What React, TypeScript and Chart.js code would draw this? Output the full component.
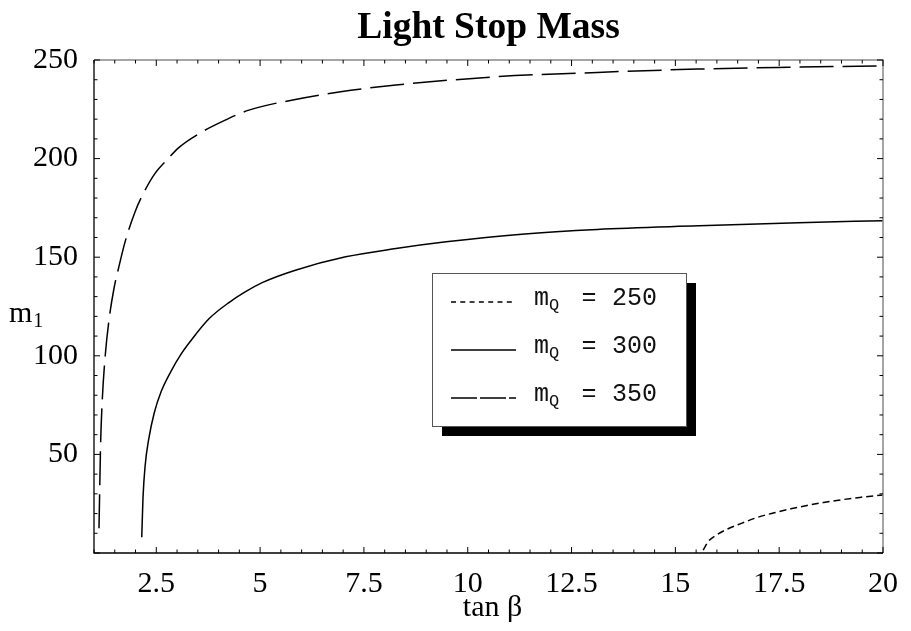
import React, { useEffect, useRef } from "react";
import { Chart, registerables } from "chart.js";

Chart.register(...registerables);

// ---- data ----
const chartTitle = "Light Stop Mass";
const xAxisTitle = "tan β";
const yAxisTitleMain = "m";
const yAxisTitleSub = "1";

const xTicks = [2.5, 5, 7.5, 10, 12.5, 15, 17.5, 20];
const yTicks = [50, 100, 150, 200, 250];
const xRange = [1, 20];
const yRange = [0, 250];
const xMinorStep = 0.5;
const yMinorStep = 10;
const xMajorStep = 2.5;
const yMajorStep = 50;

const legendNames = ["250", "300", "350"];

const tanB250 = [15.67, 15.79, 15.95, 16.27, 16.59, 16.98, 17.38, 17.78, 18.17, 18.57, 18.97, 19.44, 20];
const m250 = [1.5, 5.8, 8.6, 12.3, 15.0, 18.1, 20.4, 22.4, 24.1, 25.6, 26.9, 28.2, 29.4];

const tanB300 = [2.15, 2.18, 2.23, 2.32, 2.45, 2.62, 2.85, 3.1, 3.38, 3.78, 4.25, 4.65, 5.05, 5.85, 7.06, 8.27, 9.48, 11.3, 13.12, 15.54, 17.96, 20];
const m300 = [8, 28, 44, 58, 71, 82, 92, 101, 109, 119, 127, 132.5, 137.1, 143.4, 150.2, 154.4, 157.8, 161.7, 164.1, 165.9, 167.5, 168.5];

const tanB350 = [1.12, 1.14, 1.16, 1.2, 1.27, 1.36, 1.48, 1.6, 1.75, 1.99, 2.19, 2.47, 2.79, 3.02, 3.54, 4.17, 4.73, 5.85, 6.94, 8.27, 10.69, 13.12, 15.54, 17.72, 20];
const m350 = [12.5, 35, 56, 78, 100, 118, 134, 145.2, 157.9, 173.1, 182.4, 192.5, 200.1, 205.2, 212.8, 219.6, 224.6, 230, 233.9, 237.3, 241.5, 243.7, 245.4, 246.3, 247];

const SERIF = '"Liberation Serif", "Times New Roman", serif';
const MONO = '"Liberation Mono", "Courier New", monospace';

function toPoints(xs: number[], ys: number[]) {
  return xs.map((x, i) => ({ x, y: ys[i] }));
}

export default function App() {
  const ref = useRef<HTMLCanvasElement | null>(null);

  useEffect(() => {
    const canvas = ref.current;
    if (!canvas) return;

    const plotDashes: number[][] = [[7, 4], [], [34, 9]];
    const legendDashes: number[][] = [[5, 4.3], [], [26, 3]];

    const decor = {
      id: "decor",
      afterDraw(chart: any) {
        const { ctx, chartArea: ca, scales } = chart;
        const xs = scales.x;
        const ys = scales.y;
        ctx.save();

        // frame
        ctx.setLineDash([]);
        ctx.lineWidth = 1.5;
        ctx.strokeStyle = "#888";
        ctx.beginPath();
        ctx.moveTo(ca.left, ca.top);
        ctx.lineTo(ca.right, ca.top);
        ctx.lineTo(ca.right, ca.bottom);
        ctx.stroke();
        ctx.lineWidth = 1.3;
        ctx.strokeStyle = "#000";
        ctx.beginPath();
        ctx.moveTo(ca.left, ca.top);
        ctx.lineTo(ca.left, ca.bottom);
        ctx.lineTo(ca.right, ca.bottom);
        ctx.stroke();

        // ticks (inward on all sides)
        ctx.lineWidth = 1;
        ctx.strokeStyle = "#000";
        ctx.beginPath();
        const nX = Math.round((xRange[1] - xRange[0]) / xMinorStep);
        for (let i = 0; i <= nX; i++) {
          const v = xRange[0] + i * xMinorStep;
          const major = Math.abs(v / xMajorStep - Math.round(v / xMajorStep)) < 1e-6;
          const len = major ? 6 : 3.5;
          const px = xs.getPixelForValue(v);
          ctx.moveTo(px, ca.bottom);
          ctx.lineTo(px, ca.bottom - len);
          ctx.moveTo(px, ca.top);
          ctx.lineTo(px, ca.top + len);
        }
        const nY = Math.round((yRange[1] - yRange[0]) / yMinorStep);
        for (let i = 0; i <= nY; i++) {
          const v = yRange[0] + i * yMinorStep;
          const major = Math.abs(v / yMajorStep - Math.round(v / yMajorStep)) < 1e-6;
          const len = major ? 6 : 3.5;
          const py = ys.getPixelForValue(v);
          ctx.moveTo(ca.left, py);
          ctx.lineTo(ca.left + len, py);
          ctx.moveTo(ca.right, py);
          ctx.lineTo(ca.right - len, py);
        }
        ctx.stroke();

        // title
        ctx.fillStyle = "#000";
        ctx.textAlign = "center";
        ctx.textBaseline = "alphabetic";
        ctx.font = `bold 37.5px ${SERIF}`;
        ctx.fillText(chartTitle, (ca.left + ca.right) / 2, 38);

        // x axis title
        ctx.font = `30px ${SERIF}`;
        ctx.fillText(xAxisTitle, (ca.left + ca.right) / 2 + 4, 616);

        // y axis title with subscript
        ctx.textAlign = "left";
        ctx.font = `30px ${SERIF}`;
        ctx.fillText(yAxisTitleMain, 9, 322);
        const mw = ctx.measureText(yAxisTitleMain).width;
        ctx.font = `20px ${SERIF}`;
        ctx.fillText(yAxisTitleSub, 9 + mw + 1, 327);

        // legend
        const w = ca.right - ca.left;
        const h = ca.bottom - ca.top;
        const bx = Math.round(ca.left + 0.4286 * w);
        const by = Math.round(ca.top + 0.432 * h);
        const bw = 254;
        const bh = 153;
        ctx.fillStyle = "#000";
        ctx.fillRect(bx + 10, by + 10, bw, bh);
        ctx.fillStyle = "#fff";
        ctx.fillRect(bx, by, bw, bh);
        ctx.strokeStyle = "#555";
        ctx.lineWidth = 1;
        ctx.strokeRect(bx + 0.5, by + 0.5, bw, bh);

        chart.data.datasets.forEach((ds: any, i: number) => {
          const rowBase = by + 32 + i * 48;
          const lineY = rowBase - 3;
          ctx.strokeStyle = "#000";
          ctx.lineWidth = 1.3;
          ctx.setLineDash(legendDashes[i]);
          ctx.beginPath();
          ctx.moveTo(bx + 19, lineY);
          ctx.lineTo(bx + 84, lineY);
          ctx.stroke();
          ctx.setLineDash([]);
          ctx.fillStyle = "#111";
          ctx.textAlign = "left";
          ctx.font = `25px ${MONO}`;
          ctx.fillText("m", bx + 102, rowBase);
          ctx.font = `17px ${MONO}`;
          ctx.fillText("Q", bx + 117, rowBase + 5);
          ctx.font = `25px ${MONO}`;
          ctx.textAlign = "center";
          ctx.fillText("=", bx + 157, rowBase);
          ctx.textAlign = "left";
          ctx.fillText(ds.label, bx + 180, rowBase);
        });

        ctx.restore();
      },
    };

    const chart = new Chart(canvas, {
      type: "line",
      data: {
        datasets: [
          {
            label: legendNames[0],
            data: toPoints(tanB250, m250),
            borderColor: "#000",
            borderWidth: 1.5,
            borderDash: plotDashes[0],
            pointRadius: 0,
            fill: false,
            cubicInterpolationMode: "monotone",
          },
          {
            label: legendNames[1],
            data: toPoints(tanB300, m300),
            borderColor: "#000",
            borderWidth: 1.5,
            borderDash: plotDashes[1],
            pointRadius: 0,
            fill: false,
            cubicInterpolationMode: "monotone",
          },
          {
            label: legendNames[2],
            data: toPoints(tanB350, m350),
            borderColor: "#000",
            borderWidth: 1.5,
            borderDash: plotDashes[2],
            pointRadius: 0,
            fill: false,
            cubicInterpolationMode: "monotone",
          },
        ],
      },
      options: {
        responsive: false,
        animation: false,
        events: [],
        layout: { padding: { top: 60, right: 19, left: 0, bottom: 0 } },
        plugins: {
          legend: { display: false },
          tooltip: { enabled: false },
          title: { display: false },
        },
        scales: {
          x: {
            type: "linear",
            min: xRange[0],
            max: xRange[1],
            afterBuildTicks: (s: any) => {
              s.ticks = xTicks.map((v) => ({ value: v }));
            },
            afterFit: (s: any) => {
              s.height = 78;
            },
            grid: { display: false, drawTicks: false },
            border: { display: false },
            ticks: {
              color: "#000",
              font: { family: SERIF, size: 30 },
              padding: 13,
              maxRotation: 0,
              autoSkip: false,
              callback: (v: any) => String(v),
            },
          },
          y: {
            type: "linear",
            min: yRange[0],
            max: yRange[1],
            afterBuildTicks: (s: any) => {
              s.ticks = yTicks.map((v) => ({ value: v }));
            },
            afterFit: (s: any) => {
              s.width = 94;
            },
            grid: { display: false, drawTicks: false },
            border: { display: false },
            ticks: {
              color: "#000",
              font: { family: SERIF, size: 30 },
              padding: 16,
              autoSkip: false,
              callback: (v: any) => String(v),
            },
          },
        },
      },
      plugins: [decor],
    } as any);

    return () => {
      chart.destroy();
    };
  }, []);

  return (
    <div
      style={{
        position: "absolute",
        left: 0,
        top: 0,
        width: 911,
        height: 631,
        background: "#fff",
      }}
    >
      <canvas ref={ref} width={911} height={631} style={{ display: "block", width: 911, height: 631 }} />
    </div>
  );
}
